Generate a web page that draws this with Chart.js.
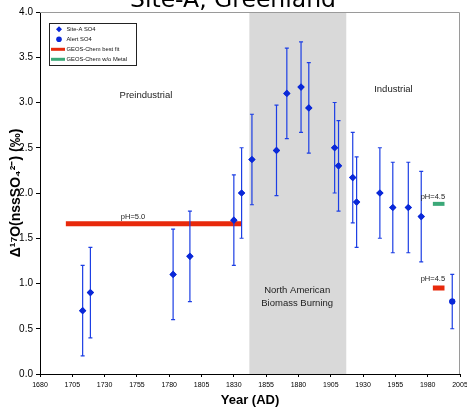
<!doctype html>
<html lang="en">
<head>
<meta charset="utf-8" />
<title>Site-A, Greenland</title>
<script src="https://cdn.jsdelivr.net/npm/chart.js"></script>
<style>
  html, body { margin: 0; padding: 0; background: #fff; overflow: hidden; }
  #wrap { position: relative; width: 467px; height: 409px; }
</style>
</head>
<body>
<div id="wrap"><canvas id="chartD17O"></canvas></div>
<script>
// axis ticks
const xTickYears = [1680, 1705, 1730, 1755, 1780, 1805, 1830, 1855, 1880, 1905, 1930, 1955, 1980, 2005];
const yTickValues = [0, 0.5, 1, 1.5, 2, 2.5, 3, 3.5, 4];

// Site-A ice core sulfate, D17O with error
const siteYears = [1713, 1719, 1783, 1796, 1830, 1836, 1844, 1863, 1871, 1882, 1888, 1908, 1911, 1922, 1925, 1943, 1953, 1965, 1975];
const siteD17O  = [0.70, 0.90, 1.10, 1.30, 1.70, 2.00, 2.37, 2.47, 3.10, 3.17, 2.94, 2.50, 2.30, 2.17, 1.90, 2.00, 1.84, 1.84, 1.74];
const siteErr   = [0.50, 0.50, 0.50, 0.50, 0.50, 0.50, 0.50, 0.50, 0.50, 0.50, 0.50, 0.50, 0.50, 0.50, 0.50, 0.50, 0.50, 0.50, 0.50];

// Alert aerosol sulfate
const alertYears = [1999];
const alertD17O  = [0.80];
const alertErr   = [0.30];

// GEOS-Chem model segments: [startYear, endYear, value]
const bestFitSegments = [[1700, 1836, 1.66], [1984, 1993, 0.95]];
const noMetalSegments = [[1984, 1993, 1.88]];

// shaded period
const biomassYears = [1842, 1917];

// text notes in data coordinates
const notes = [
  { text: 'Preindustrial', x: 1762, y: 3.08, size: 9.5 },
  { text: 'Industrial', x: 1953.5, y: 3.15, size: 9.5 },
  { text: 'North American', x: 1879, y: 0.92, size: 9.5 },
  { text: 'Biomass Burning', x: 1879, y: 0.775, size: 9.5 },
  { text: 'pH=5.0', x: 1752, y: 1.73, size: 7.5 },
  { text: 'pH=4.5', x: 1984, y: 1.96, size: 7.5 },
  { text: 'pH=4.5', x: 1984, y: 1.045, size: 7.5 }
];

const BLUE = '#0a28d8';
const BAR_BLUE = '#1d3fe4';
const RED = '#e8290b';
const GREEN = '#3ba878';
const FONT = "'Liberation Sans', Arial, sans-serif";

Chart.defaults.font.family = FONT;
Chart.defaults.color = '#000';

function points(xs, ys) {
  return xs.map((x, i) => ({ x: x, y: ys[i] }));
}

function segmentPoints(segs) {
  let out = [];
  segs.forEach((s, i) => {
    if (i > 0) out.push({ x: (segs[i - 1][1] + s[0]) / 2, y: null });
    out.push({ x: s[0], y: s[2] });
    out.push({ x: s[1], y: s[2] });
  });
  return out;
}

const bandPlugin = {
  id: 'band',
  beforeDraw(chart) {
    const { ctx, chartArea, scales } = chart;
    const x1 = scales.x.getPixelForValue(biomassYears[0]);
    const x2 = scales.x.getPixelForValue(biomassYears[1]);
    ctx.save();
    ctx.fillStyle = '#d9d9d9';
    ctx.fillRect(x1, chartArea.top, x2 - x1, chartArea.bottom - chartArea.top);
    ctx.restore();
  },
  beforeDatasetsDraw(chart) {
    // gray frame on top and right
    const { ctx, chartArea } = chart;
    ctx.save();
    ctx.strokeStyle = '#9a9a9a';
    ctx.lineWidth = 1;
    ctx.beginPath();
    ctx.moveTo(chartArea.left, chartArea.top + 0.5);
    ctx.lineTo(chartArea.right - 0.5, chartArea.top + 0.5);
    ctx.lineTo(chartArea.right - 0.5, chartArea.bottom);
    ctx.stroke();
    ctx.restore();
  }
};

const errorBarPlugin = {
  id: 'errorBars',
  afterDatasetsDraw(chart) {
    const { ctx, scales } = chart;
    ctx.save();
    ctx.strokeStyle = BAR_BLUE;
    ctx.lineWidth = 1.2;
    chart.data.datasets.forEach((ds) => {
      if (!ds.errors) return;
      ds.data.forEach((p, i) => {
        const x = scales.x.getPixelForValue(p.x);
        const yt = scales.y.getPixelForValue(p.y + ds.errors[i]);
        const yb = scales.y.getPixelForValue(p.y - ds.errors[i]);
        ctx.beginPath();
        ctx.moveTo(x, yt); ctx.lineTo(x, yb);
        ctx.moveTo(x - 2, yt); ctx.lineTo(x + 2, yt);
        ctx.moveTo(x - 2, yb); ctx.lineTo(x + 2, yb);
        ctx.stroke();
      });
    });
    ctx.restore();
    // markers on top of the bars
    chart.data.datasets.forEach((ds, i) => {
      if (ds.errors) chart.getDatasetMeta(i).controller.draw();
    });
  }
};

const notesPlugin = {
  id: 'notes',
  afterDraw(chart) {
    const { ctx, scales } = chart;
    ctx.save();
    ctx.fillStyle = '#222';
    ctx.textAlign = 'center';
    ctx.textBaseline = 'middle';
    for (let n of notes) {
      ctx.font = n.size + 'px ' + FONT;
      ctx.fillText(n.text, scales.x.getPixelForValue(n.x), scales.y.getPixelForValue(n.y));
    }
    // title, partly above the page
    ctx.fillStyle = '#000';
    ctx.textBaseline = 'alphabetic';
    ctx.font = "23.5px 'DejaVu Sans', sans-serif";
    ctx.fillText('Site-A, Greenland', 233, 7);
    ctx.restore();
  }
};

const legendPlugin = {
  id: 'boxLegend',
  afterDraw(chart) {
    const { ctx } = chart;
    const left = 49, top = 23, w = 87, h = 42;
    ctx.save();
    ctx.fillStyle = '#fff';
    ctx.fillRect(left, top, w, h);
    ctx.strokeStyle = '#222';
    ctx.lineWidth = 1;
    ctx.strokeRect(left + 0.5, top + 0.5, w, h);
    ctx.font = '5.8px ' + FONT;
    ctx.textBaseline = 'middle';
    ctx.textAlign = 'left';
    chart.data.datasets.forEach((ds, i) => {
      const y = top + 6.3 + i * 10;
      if (ds.showLine === false) {
        ctx.fillStyle = ds.backgroundColor;
        ctx.beginPath();
        if (ds.pointStyle === 'rectRot') {
          ctx.moveTo(59, y - 3); ctx.lineTo(62, y); ctx.lineTo(59, y + 3); ctx.lineTo(56, y);
        } else {
          ctx.arc(59, y, 2.8, 0, Math.PI * 2);
        }
        ctx.fill();
      } else {
        ctx.fillStyle = ds.borderColor;
        ctx.fillRect(51, y - 1.5, 14, 3);
      }
      ctx.fillStyle = '#111';
      ctx.fillText(ds.label, 66.5, y);
    });
    ctx.restore();
  }
};

new Chart(document.getElementById('chartD17O'), {
  type: 'line',
  data: {
    datasets: [
      {
        label: 'Site-A SO4',
        data: points(siteYears, siteD17O),
        errors: siteErr,
        showLine: false,
        pointStyle: 'rectRot',
        pointRadius: 3.6,
        backgroundColor: BLUE,
        borderColor: BLUE,
        pointBorderWidth: 0
      },
      {
        label: 'Alert SO4',
        data: points(alertYears, alertD17O),
        errors: alertErr,
        showLine: false,
        pointStyle: 'circle',
        pointRadius: 3,
        backgroundColor: BLUE,
        borderColor: BLUE,
        pointBorderWidth: 0
      },
      {
        label: 'GEOS-Chem best fit',
        data: segmentPoints(bestFitSegments),
        borderColor: RED,
        backgroundColor: RED,
        borderWidth: 5,
        borderCapStyle: 'butt',
        pointRadius: 0,
        spanGaps: false
      },
      {
        label: 'GEOS-Chem w/o Metal',
        data: segmentPoints(noMetalSegments),
        borderColor: GREEN,
        backgroundColor: GREEN,
        borderWidth: 4,
        borderCapStyle: 'butt',
        pointRadius: 0
      }
    ]
  },
  options: {
    responsive: true,
    maintainAspectRatio: false,
    animation: false,
    devicePixelRatio: 1,
    layout: { padding: { top: 12, right: 7, left: 0, bottom: 0 } },
    plugins: {
      legend: { display: false },
      tooltip: { enabled: false }
    },
    scales: {
      x: {
        type: 'linear',
        min: 1680,
        max: 2005,
        afterBuildTicks: (scale) => { scale.ticks = xTickYears.map(v => ({ value: v })); },
        afterFit: (scale) => { scale.height = 35; scale.paddingLeft = 0; scale.paddingRight = 0; },
        grid: { drawOnChartArea: false, drawTicks: true, tickLength: 3, color: '#000' },
        border: { display: true, color: '#000', width: 1 },
        ticks: {
          font: { size: 7 },
          color: '#000',
          padding: 4,
          maxRotation: 0,
          autoSkip: false,
          callback: (v) => String(v)
        },
        title: {
          display: true,
          text: 'Year (AD)',
          font: { size: 13, weight: 'bold' },
          color: '#000',
          padding: { top: 0, bottom: 1 }
        }
      },
      y: {
        type: 'linear',
        min: 0,
        max: 4,
        afterBuildTicks: (scale) => { scale.ticks = yTickValues.map(v => ({ value: v })); },
        afterFit: (scale) => { scale.width = 40; scale.paddingTop = 0; scale.paddingBottom = 0; },
        grid: { drawOnChartArea: false, drawTicks: true, tickLength: 4, color: '#000' },
        border: { display: true, color: '#000', width: 1 },
        ticks: {
          font: { size: 10 },
          color: '#000',
          padding: 3,
          callback: (v) => v.toFixed(1)
        },
        title: {
          display: true,
          text: 'Δ¹⁷O(nssSO₄²⁻) (‰)',
          font: { size: 14, weight: 'bold' },
          color: '#000',
          padding: { top: 8, bottom: 0 }
        }
      }
    }
  },
  plugins: [bandPlugin, errorBarPlugin, notesPlugin, legendPlugin]
});
</script>
</body>
</html>
